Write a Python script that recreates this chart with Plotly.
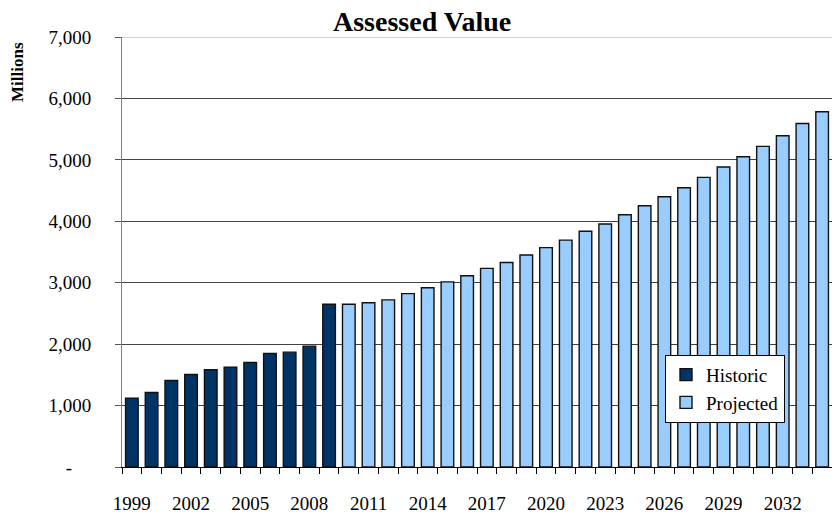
import plotly.graph_objects as go

hist_years = list(range(1999, 2010))
hist_values = [1122, 1213, 1408, 1506, 1582, 1626, 1701, 1847, 1870, 1967, 2650]
proj_years = list(range(2010, 2035))
proj_values = [2650, 2675, 2720, 2823, 2918, 3013, 3113, 3233, 3328, 3450, 3571,
               3693, 3837, 3956, 4107, 4254, 4400, 4546, 4715, 4883, 5050,
               5219, 5392, 5593, 5782]
x_tick_years = list(range(1999, 2035, 3))
y_tick_vals = [0, 1000, 2000, 3000, 4000, 5000, 6000, 7000]
y_tick_text = ["-\u00a0\u00a0\u00a0\u00a0", "1,000", "2,000", "3,000", "4,000", "5,000", "6,000", "7,000"]

FONT = "Liberation Serif, Times New Roman, serif"

fig = go.Figure()
fig.add_trace(go.Bar(x=hist_years, y=hist_values, name="Historic",
                     marker=dict(color="#003366", line=dict(color="#111111", width=1.4))))
fig.add_trace(go.Bar(x=proj_years, y=proj_values, name="Projected",
                     marker=dict(color="#99CCFF", line=dict(color="#111111", width=1.4))))

fig.update_layout(
    width=832, height=516,
    margin=dict(l=122, r=0, t=37, b=49, autoexpand=False),
    paper_bgcolor="white", plot_bgcolor="white",
    barmode="overlay", bargap=0.36,
    font=dict(family=FONT, size=19, color="black"),
    showlegend=True,
    legend=dict(x=(665 - 122) / 710, y=(467.3 - 355) / 430.3, xanchor="left", yanchor="top",
                bgcolor="white", bordercolor="black", borderwidth=1,
                font=dict(family=FONT, size=19, color="black"), tracegroupgap=0),
    xaxis=dict(range=[1998.5, 2034.5], tickmode="array", tickvals=x_tick_years,
               ticktext=[str(y) for y in x_tick_years], automargin=False,
               ticks="outside", ticklen=19, tickcolor="rgba(0,0,0,0)",
               showline=True, linecolor="black", linewidth=1, showgrid=False, zeroline=False,
               tickfont=dict(family=FONT, size=19, color="black"),
               minor=dict(tickmode="linear", tick0=1998.5, dtick=1, ticks="outside",
                          ticklen=6, tickcolor="black", tickwidth=1, showgrid=False)),
    yaxis=dict(range=[0, 7000], tickmode="array", tickvals=y_tick_vals, ticktext=y_tick_text,
               ticks="outside", ticklen=6, tickcolor="#555555", ticklabelstandoff=20,
               showline=True, linecolor="#808080", linewidth=1, automargin=False,
               showgrid=True, gridcolor="#404040", gridwidth=1, zeroline=False,
               tickfont=dict(family=FONT, size=19, color="black")),
    shapes=[dict(type="line", xref="paper", yref="y", x0=0, x1=1, y0=7000, y1=7000,
                 line=dict(color="#d0d0d0", width=2), layer="above")],
    annotations=[
        dict(text="<b>Assessed Value</b>", xref="paper", yref="paper",
             x=(422 - 122) / 710, y=(467.3 - 21) / 430.3, xanchor="center", yanchor="middle",
             showarrow=False, font=dict(family=FONT, size=28, color="black")),
        dict(text="<b>Millions</b>", xref="paper", yref="paper",
             x=(18 - 122) / 710, y=(467.3 - 72) / 430.3, xanchor="center", yanchor="middle",
             textangle=-90, showarrow=False, font=dict(family=FONT, size=17, color="black")),
    ],
)

fig.write_html("out.html", config={"displayModeBar": False},
               post_script="document.body.style.margin='0';document.body.style.padding='0';")
